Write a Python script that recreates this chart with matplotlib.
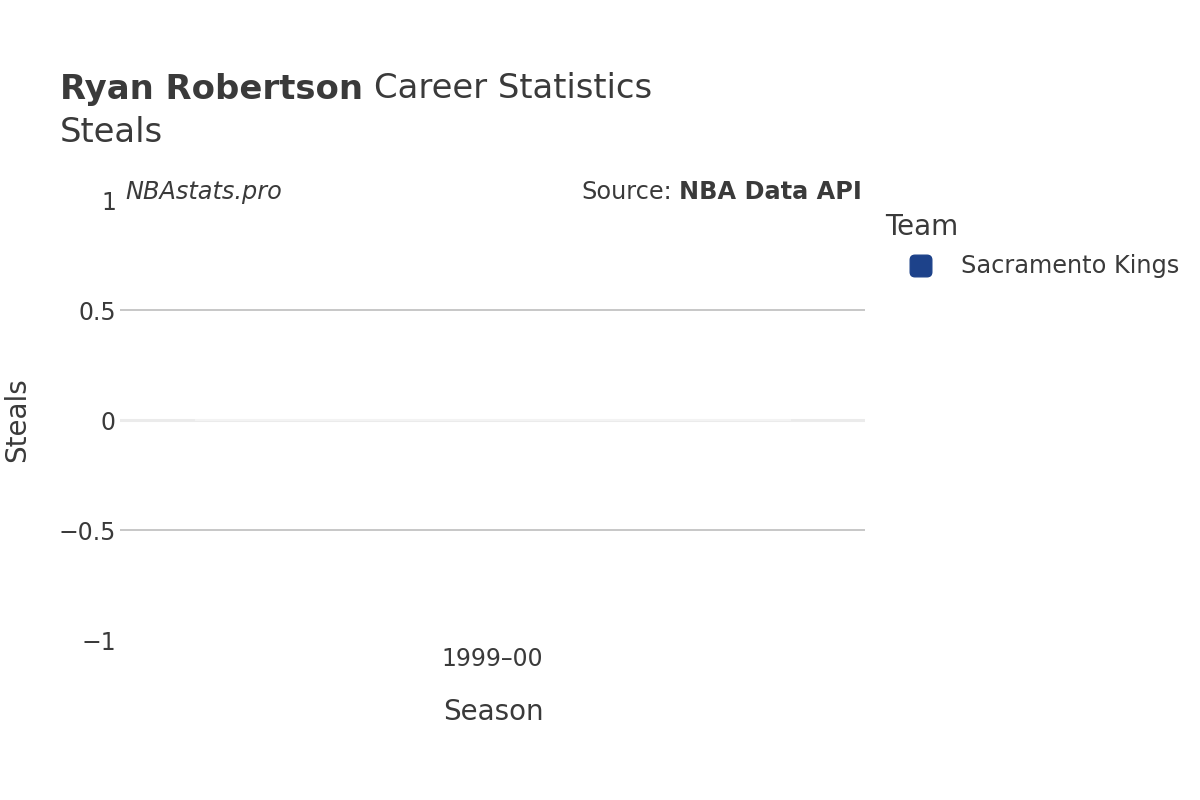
import matplotlib
matplotlib.use("Agg")
import matplotlib.pyplot as plt
from matplotlib.patches import FancyBboxPatch

plt.rcParams['font.family'] = ['DejaVu Sans']

player = "Ryan Robertson"
stat_name = "Steals"
seasons = ["1999–00"]
steals = [0]
team = "Sacramento Kings"
team_color = "#1d428a"
yticks = [-1, -0.5, 0, 0.5, 1]
ytick_labels = ["−1", "−0.5", "0", "0.5", "1"]

TEXT = "#3a3a3a"
W, H = 1200, 800

fig = plt.figure(figsize=(12, 8), dpi=100)
ax = fig.add_axes([120 / W, 1 - 640 / H, 745 / W, 440 / H])

x = list(range(len(seasons)))
ax.bar(x, steals, width=0.8, color=team_color, edgecolor="#f5f5f5", linewidth=1.2, zorder=3)

ax.set_xlim(-0.5, len(seasons) - 0.5)
ax.set_ylim(-1, 1)
ax.set_yticks(yticks)
ax.set_yticklabels(ytick_labels)
ax.set_xticks(x)
ax.set_xticklabels(seasons)
ax.tick_params(axis='both', length=0, labelsize=17, colors=TEXT)
ax.tick_params(axis='y', pad=3)
ax.tick_params(axis='x', pad=5)

for v in yticks:
    if v in (-1, 1):
        continue
    if v == 0:
        ax.axhline(v, color="#ebebeb", linewidth=2.2, zorder=1)
    else:
        ax.axhline(v, color="#bdbdbd", linewidth=1.2, zorder=1)

for s in ax.spines.values():
    s.set_visible(False)

fig.text(493 / W, 1 - 712 / H, "Season", fontsize=20, color=TEXT, ha='center', va='center')
fig.text(17 / W, 1 - 420 / H, stat_name, rotation=90, fontsize=20, color=TEXT, ha='center', va='center')

# Title
t0 = fig.text(60 / W, 1 - 89 / H, player, fontsize=24.4, fontweight='bold', color=TEXT, ha='left', va='center')
fig.canvas.draw()
r = fig.canvas.get_renderer()
bb = t0.get_window_extent(renderer=r)
fig.text(bb.x1 / W + 0.009, 1 - 89 / H, "Career Statistics", fontsize=24.4, color=TEXT, ha='left', va='center')
fig.text(60 / W, 1 - 133 / H, stat_name, fontsize=24.4, color=TEXT, ha='left', va='center')

# annotations
fig.text(125 / W, 1 - 192 / H, "NBAstats.pro", fontsize=17.3, style='italic', color=TEXT, ha='left', va='center')
src = fig.text(862 / W, 1 - 192 / H, "NBA Data API", fontsize=17.3, fontweight='bold', color=TEXT, ha='right', va='center')
fig.canvas.draw()
bb2 = src.get_window_extent(renderer=fig.canvas.get_renderer())
fig.text(bb2.x0 / W - 0.006, 1 - 192 / H, "Source:", fontsize=17.3, color=TEXT, ha='right', va='center')

# Legend
fig.text(885 / W, 1 - 227 / H, "Team", fontsize=20, color=TEXT, ha='left', va='center')
patch = FancyBboxPatch((912 / W, 1 - 275 / H), 18 / W, 18 / H,
                       boxstyle="round,pad=0.0015,rounding_size=0.004",
                       transform=fig.transFigure, facecolor=team_color, edgecolor=team_color,
                       mutation_aspect=W / H)
fig.patches.append(patch)
fig.text(961 / W, 1 - 266 / H, team, fontsize=17.3, color=TEXT, ha='left', va='center')

fig.savefig("out.png", dpi=100, facecolor="white")
